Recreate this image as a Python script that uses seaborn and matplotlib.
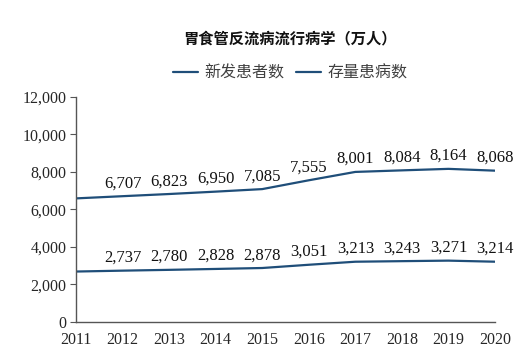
import numpy as np
import pandas as pd
import matplotlib
matplotlib.use('Agg')
import matplotlib.pyplot as plt
import seaborn as sns
from matplotlib.lines import Line2D

# data (2011 values estimated, not labelled)
years = [2011, 2012, 2013, 2014, 2015, 2016, 2017, 2018, 2019, 2020]
new_cases = [2690, 2737, 2780, 2828, 2878, 3051, 3213, 3243, 3271, 3214]
prevalence = [6590, 6707, 6823, 6950, 7085, 7555, 8001, 8084, 8164, 8068]
series_names = ['新发患者数', '存量患病数']
title = '胃食管反流病流行病学（万人）'

df = pd.DataFrame({
    'year': years * 2,
    'value': new_cases + prevalence,
    'series': [series_names[0]] * len(years) + [series_names[1]] * len(years),
})

sns.set_style('white')
plt.rcParams['font.family'] = ['Liberation Serif', 'Noto Sans CJK SC']

line_color = '#1f4e79'

fig = plt.figure(figsize=(5.21, 3.55), dpi=100)
ax = fig.add_axes([0.146, 0.093, 0.804, 0.634])

sns.lineplot(data=df, x='year', y='value', hue='series',
             palette=[line_color, line_color], linewidth=1.6, ax=ax, legend=False)

# value labels, 2011 left unlabelled as in the picture
for vals in (new_cases, prevalence):
    for x, v in zip(years[1:], vals[1:]):
        ax.annotate(f'{v:,}', (x, v), xytext=(0, 3.5), textcoords='offset points',
                    ha='center', va='bottom', fontsize=12, color='#111111')

ax.set_xlim(2011, 2020)
ax.set_ylim(0, 12000)
ax.set_yticks(range(0, 12001, 2000))
ax.set_yticklabels([f'{t:,}' for t in range(0, 12001, 2000)])
ax.set_xticks(years)
ax.set_xlabel('')
ax.set_ylabel('')
ax.tick_params(axis='y', length=4, width=0.8, color='#555555', labelsize=11.5, pad=3, direction='out', left=True)
ax.tick_params(axis='x', length=0, labelsize=11.5, pad=7)
for s in ['top', 'right']:
    ax.spines[s].set_visible(False)
for s in ['left', 'bottom']:
    ax.spines[s].set_color('#555555')
    ax.spines[s].set_linewidth(1.0)

fig.text(0.557, 0.893, title, ha='center', va='center', fontsize=11,
         fontweight='bold', family=['Noto Sans CJK SC'], color='#111111')

# legend
handles = [Line2D([], [], color=line_color, lw=1.6) for _ in series_names]
leg = fig.legend(handles, series_names, loc='center', bbox_to_anchor=(0.557, 0.793),
                 ncol=2, frameon=False, handlelength=1.6, handletextpad=0.4,
                 columnspacing=0.7, prop={'family': 'Noto Sans CJK SC', 'size': 11.5})
for t in leg.get_texts():
    t.set_color('#404040')

fig.savefig('out.png', dpi=100)
